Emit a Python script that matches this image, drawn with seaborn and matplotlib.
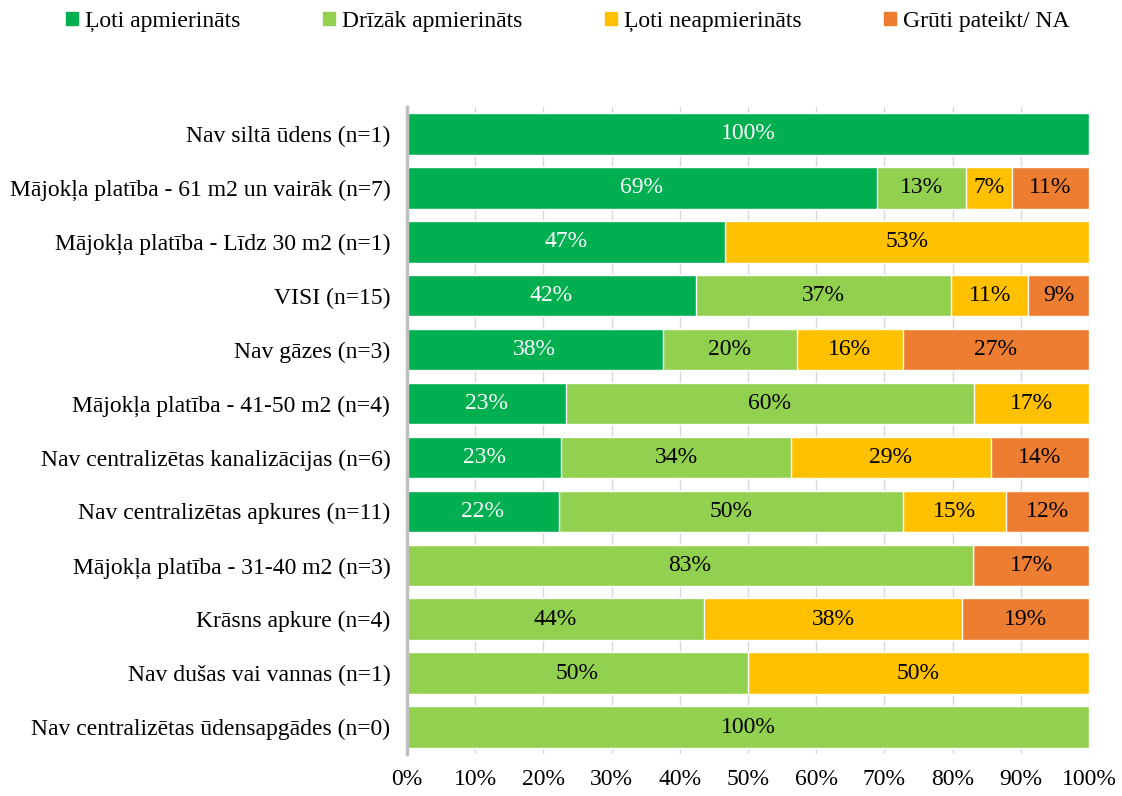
import matplotlib
matplotlib.use("Agg")
import matplotlib.pyplot as plt
import seaborn as sns
import numpy as np
import pandas as pd

groups = [
    "Nav siltā ūdens (n=1)",
    "Mājokļa platība - 61 m2 un vairāk (n=7)",
    "Mājokļa platība - Līdz 30 m2 (n=1)",
    "VISI (n=15)",
    "Nav gāzes (n=3)",
    "Mājokļa platība - 41-50 m2 (n=4)",
    "Nav centralizētas kanalizācijas (n=6)",
    "Nav centralizētas apkures (n=11)",
    "Mājokļa platība - 31-40 m2 (n=3)",
    "Krāsns apkure (n=4)",
    "Nav dušas vai vannas (n=1)",
    "Nav centralizētas ūdensapgādes (n=0)",
]
series = ["Ļoti apmierināts", "Drīzāk apmierināts", "Ļoti neapmierināts", "Grūti pateikt/ NA"]
loti_apm = [100, 68.9, 46.6, 42.4, 37.5, 23.3, 22.6, 22.3, 0, 0, 0, 0]
drizak_apm = [0, 13.1, 0, 37.4, 19.7, 59.8, 33.7, 50.4, 83.0, 43.5, 50, 100]
loti_neapm = [0, 6.7, 53.4, 11.3, 15.5, 16.9, 29.3, 15.2, 0, 37.9, 50, 0]
gruti = [0, 11.3, 0, 8.9, 27.3, 0, 14.4, 12.1, 17.0, 18.6, 0, 0]
colors = ["#00b050", "#92d050", "#ffc000", "#ed7d31"]
text_colors = ["white", "black", "black", "black"]

sns.set_style("white")
plt.rcParams["font.family"] = ["Liberation Serif", "DejaVu Serif"]
plt.rcParams["text.color"] = "black"
fs = 17

df = pd.DataFrame({"group": groups, series[0]: loti_apm, series[1]: drizak_apm,
                   series[2]: loti_neapm, series[3]: gruti})
vals = df[series].to_numpy()
cum = np.cumsum(vals, axis=1)

fig = plt.figure(figsize=(11.22, 7.96), dpi=100)
ax = fig.add_axes([0.3627, 0.0528, 0.6079, 0.8128])

# stacked bars: draw cumulative totals, widest first
for i in reversed(range(len(series))):
    sns.barplot(x=cum[:, i], y=df["group"], color=colors[i], orient="h", saturation=1,
                width=0.77, edgecolor="white", linewidth=1, ax=ax, zorder=2)

for r in range(len(groups)):
    for i in range(len(series)):
        v = vals[r, i]
        if v <= 0:
            continue
        ax.text(cum[r, i] - v / 2, r, f"{round(v):.0f}%", ha="center", va="center",
                color=text_colors[i], fontsize=fs, zorder=3)

ax.set_xlim(0, 100)
ax.set_ylim(len(groups) - 0.5, -0.5)
ax.set_xticks(np.arange(0, 101, 10))
ax.set_xticklabels([f"{t}%" for t in range(0, 101, 10)])
ax.set_xlabel("")
ax.set_ylabel("")
ax.xaxis.grid(True, color="#d9d9d9", linewidth=1, zorder=0)
ax.set_axisbelow(True)
ax.tick_params(axis="both", length=0, labelsize=fs, labelcolor="black")
ax.tick_params(axis="y", pad=12)
ax.tick_params(axis="x", pad=11)
for s in ["top", "right", "bottom"]:
    ax.spines[s].set_visible(False)
ax.spines["left"].set_color("#bfbfbf")
ax.spines["left"].set_linewidth(2.5)

handles = [plt.Rectangle((0, 0), 1, 1, color=c) for c in colors]
fig.legend(handles, series, loc="upper left", bbox_to_anchor=(0.04, 1.013), ncol=4,
           frameon=False, fontsize=fs, handlelength=0.5, handleheight=0.5,
           handletextpad=0.3, columnspacing=3.5, labelcolor="black")

fig.savefig("out.png", dpi=100)
